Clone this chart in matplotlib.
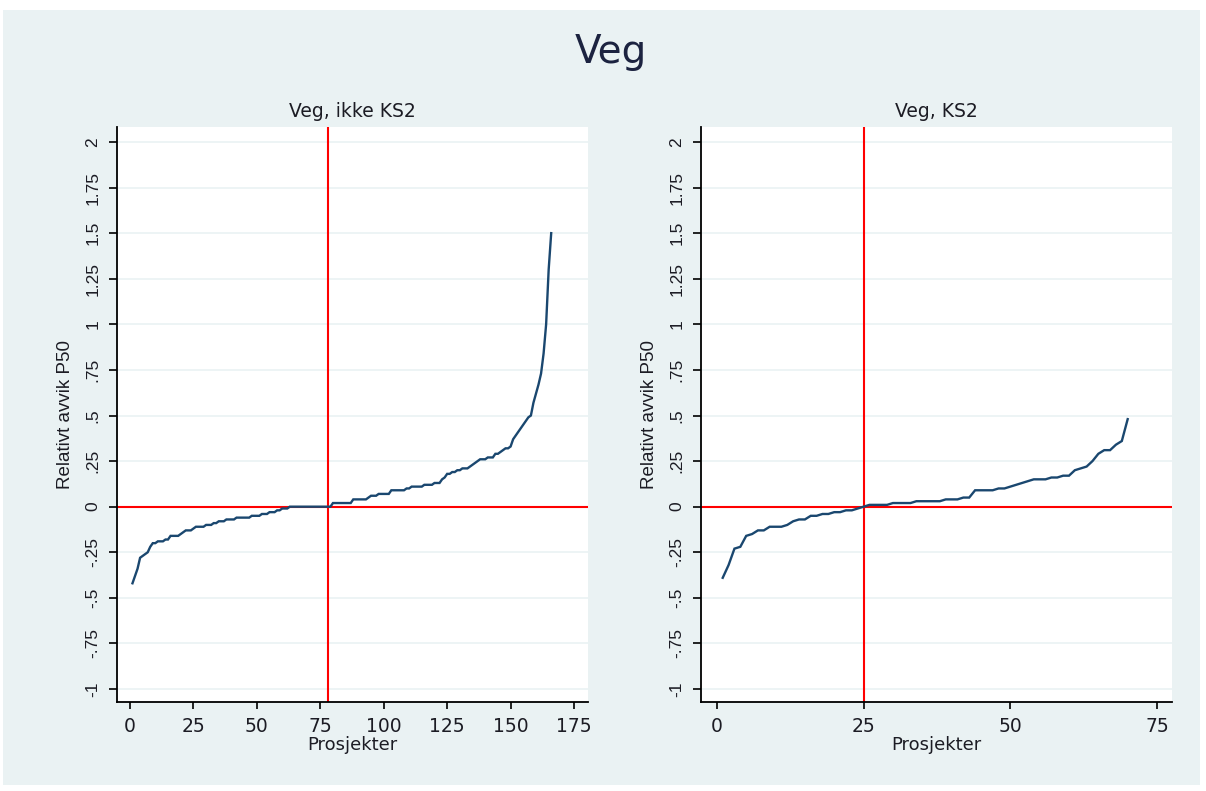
from __future__ import annotations

import matplotlib

matplotlib.use("Agg")
import matplotlib.pyplot as plt
from matplotlib.patches import Rectangle
import numpy as np


# =========================
# Data
# =========================

FIG_TITLE = "Veg"
PANEL_TITLES = ["Veg, ikke KS2", "Veg, KS2"]
X_LABEL = "Prosjekter"
Y_LABEL = "Relativt avvik P50"

# Sorted relative deviation from P50, one value per project (rank 1..n).
avvik_ikke_ks2 = [
    -0.42, -0.38, -0.34, -0.28, -0.27, -0.26, -0.25, -0.22, -0.20, -0.20,
    -0.19, -0.19, -0.19, -0.18, -0.18, -0.16, -0.16, -0.16, -0.16, -0.15,
    -0.14, -0.13, -0.13, -0.13, -0.12, -0.11, -0.11, -0.11, -0.11, -0.10,
    -0.10, -0.10, -0.09, -0.09, -0.08, -0.08, -0.08, -0.07, -0.07, -0.07,
    -0.07, -0.06, -0.06, -0.06, -0.06, -0.06, -0.06, -0.05, -0.05, -0.05,
    -0.05, -0.04, -0.04, -0.04, -0.03, -0.03, -0.03, -0.02, -0.02, -0.01,
    -0.01, -0.01, 0.00, 0.00, 0.00, 0.00, 0.00, 0.00, 0.00, 0.00,
    0.00, 0.00, 0.00, 0.00, 0.00, 0.00, 0.00, 0.00, 0.00, 0.02,
    0.02, 0.02, 0.02, 0.02, 0.02, 0.02, 0.02, 0.04, 0.04, 0.04,
    0.04, 0.04, 0.04, 0.05, 0.06, 0.06, 0.06, 0.07, 0.07, 0.07,
    0.07, 0.07, 0.09, 0.09, 0.09, 0.09, 0.09, 0.09, 0.10, 0.10,
    0.11, 0.11, 0.11, 0.11, 0.11, 0.12, 0.12, 0.12, 0.12, 0.13,
    0.13, 0.13, 0.15, 0.16, 0.18, 0.18, 0.19, 0.19, 0.20, 0.20,
    0.21, 0.21, 0.21, 0.22, 0.23, 0.24, 0.25, 0.26, 0.26, 0.26,
    0.27, 0.27, 0.27, 0.29, 0.29, 0.30, 0.31, 0.32, 0.32, 0.33,
    0.37, 0.39, 0.41, 0.43, 0.45, 0.47, 0.49, 0.50, 0.57, 0.62,
    0.67, 0.73, 0.84, 1.00, 1.30, 1.50,
]

avvik_ks2 = [
    -0.39, -0.32, -0.23, -0.22, -0.16, -0.15, -0.13, -0.13, -0.11, -0.11,
    -0.11, -0.10, -0.08, -0.07, -0.07, -0.05, -0.05, -0.04, -0.04, -0.03,
    -0.03, -0.02, -0.02, -0.01, 0.00, 0.01, 0.01, 0.01, 0.01, 0.02,
    0.02, 0.02, 0.02, 0.03, 0.03, 0.03, 0.03, 0.03, 0.04, 0.04,
    0.04, 0.05, 0.05, 0.09, 0.09, 0.09, 0.09, 0.10, 0.10, 0.11,
    0.12, 0.13, 0.14, 0.15, 0.15, 0.15, 0.16, 0.16, 0.17, 0.17,
    0.20, 0.21, 0.22, 0.25, 0.29, 0.31, 0.31, 0.34, 0.36, 0.48,
]

# Reference lines: median project rank per panel, and zero deviation
median_rank = [78, 25]
zero_line = 0.0

x_ticks = [[0, 25, 50, 75, 100, 125, 150, 175], [0, 25, 50, 75]]
y_ticks = [-1, -0.75, -0.5, -0.25, 0, 0.25, 0.5, 0.75, 1, 1.25, 1.5, 1.75, 2]
y_tick_labels = ["-1", "-.75", "-.5", "-.25", "0", ".25", ".5", ".75",
                 "1", "1.25", "1.5", "1.75", "2"]


# =========================
# Style
# =========================

W_PX, H_PX = 1206, 791
BG_COLOR = "#EAF2F3"
LINE_COLOR = "#1A476F"
REF_COLOR = "#FF0000"
GRID_COLOR = "#EAF2F3"
TEXT_COLOR = "#1C1C24"

# Axes boxes in pixels: (left, top, right, bottom)
PANEL_BOXES = [(117, 127, 588, 702), (701, 127, 1172, 702)]
X_LIMS = [(-5.1, 180.5), (-2.7, 77.55)]
Y_LIM = (-1.071, 2.082)


def px_box_to_fig(box):
    left, top, right, bottom = box
    return [left / W_PX, 1 - bottom / H_PX, (right - left) / W_PX, (bottom - top) / H_PX]


def draw_panel(ax, values, title, xticks, xlim, vline):
    ranks = np.arange(1, len(values) + 1)

    ax.set_facecolor("white")
    for yt in y_ticks:
        ax.axhline(yt, color=GRID_COLOR, linewidth=1.2, zorder=1)
    ax.axhline(zero_line, color=REF_COLOR, linewidth=1.5, zorder=2)
    ax.axvline(vline, color=REF_COLOR, linewidth=1.5, zorder=2)
    ax.plot(ranks, values, color=LINE_COLOR, linewidth=1.7, zorder=3,
            solid_joinstyle="miter")

    ax.set_xlim(*xlim)
    ax.set_ylim(*Y_LIM)
    ax.set_xticks(xticks)
    ax.set_xticklabels([str(t) for t in xticks], family="DejaVu Sans",
                       fontsize=13.5, color=TEXT_COLOR)
    ax.set_yticks(y_ticks)
    ax.set_yticklabels(y_tick_labels, rotation=90, va="center",
                       family="Liberation Sans", fontsize=12.5, color=TEXT_COLOR)

    for side in ("top", "right"):
        ax.spines[side].set_visible(False)
    for side in ("left", "bottom"):
        ax.spines[side].set_linewidth(1.3)
        ax.spines[side].set_color("black")
    ax.tick_params(axis="x", direction="out", length=5, width=1.2, pad=6)
    ax.tick_params(axis="y", direction="out", length=6, width=1.2, pad=6)

    ax.set_xlabel(X_LABEL, family="DejaVu Sans", fontsize=13,
                  color=TEXT_COLOR, labelpad=0)
    ax.set_ylabel(Y_LABEL, family="Liberation Sans", fontsize=13.5,
                  color=TEXT_COLOR, labelpad=8)
    ax.set_title(title, family="DejaVu Sans", fontsize=13.5, color=TEXT_COLOR,
                 pad=7)


def main():
    fig = plt.figure(figsize=(W_PX / 100, H_PX / 100), dpi=100, facecolor="white")
    fig.patches.append(
        Rectangle((3 / W_PX, 1 - 785 / H_PX), 1197 / W_PX, 775 / H_PX,
                  transform=fig.transFigure, facecolor=BG_COLOR,
                  edgecolor="none", zorder=-10)
    )

    series = [avvik_ikke_ks2, avvik_ks2]
    for i in range(2):
        ax = fig.add_axes(px_box_to_fig(PANEL_BOXES[i]))
        draw_panel(ax, series[i], PANEL_TITLES[i], x_ticks[i], X_LIMS[i],
                   median_rank[i])

    fig.text(611 / W_PX, 1 - 52 / H_PX, FIG_TITLE, ha="center", va="center",
             family="DejaVu Sans", fontsize=28, color="#1C2340")

    fig.savefig("out.png", dpi=100, facecolor=fig.get_facecolor())


if __name__ == "__main__":
    main()
